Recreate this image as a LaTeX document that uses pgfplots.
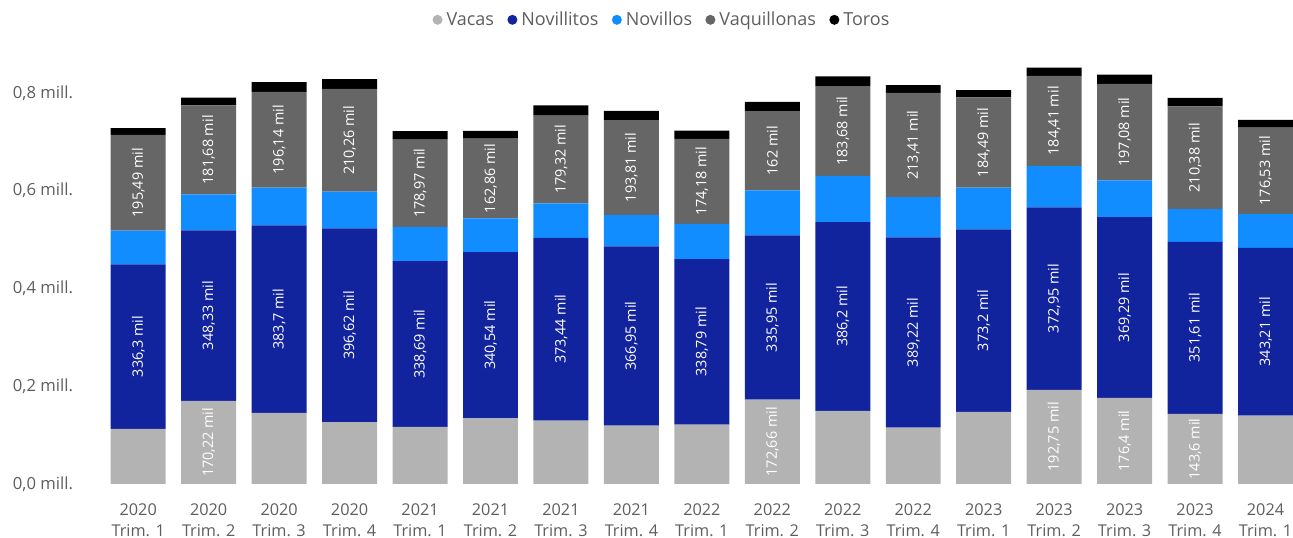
\documentclass[border=0pt]{standalone}
\usepackage{pgfplots}
\pgfplotsset{compat=1.18}
\usepackage{fontspec}
\setmainfont{Open Sans}
\definecolor{cVacas}{HTML}{B3B3B3}
\definecolor{cNovillitos}{HTML}{12239E}
\definecolor{cNovillos}{HTML}{118DFF}
\definecolor{cVaq}{HTML}{666666}
\definecolor{cToros}{HTML}{000000}
\definecolor{txt}{HTML}{605E5C}
\begin{document}
\begin{tikzpicture}
\begin{axis}[
  at={(0,0)}, anchor=south west,
  scale only axis, width=892.5pt, height=330pt,
  xmin=-0.5, xmax=16.39, ymin=0, ymax=0.9,
  ybar stacked, bar width=0.78,
  clip=false,
  axis line style={draw=none},
  tick style={draw=none},
  /pgf/number format/assume math mode=true,
  ytick={0,0.2,0.4,0.6,0.8},
  yticklabels={{0,0 mill.},{0,2 mill.},{0,4 mill.},{0,6 mill.},{0,8 mill.}},
  yticklabel style={font=\fontsize{12.5}{14}\selectfont, text=txt, xshift=-19pt},
  xtick={0,...,16},
  xticklabels={{2020\\Trim. 1},{2020\\Trim. 2},{2020\\Trim. 3},{2020\\Trim. 4},
               {2021\\Trim. 1},{2021\\Trim. 2},{2021\\Trim. 3},{2021\\Trim. 4},
               {2022\\Trim. 1},{2022\\Trim. 2},{2022\\Trim. 3},{2022\\Trim. 4},
               {2023\\Trim. 1},{2023\\Trim. 2},{2023\\Trim. 3},{2023\\Trim. 4},
               {2024\\Trim. 1}},
  xticklabel style={align=center, font=\fontsize{12.2}{15.75}\selectfont, text=txt, yshift=-11pt},
  legend columns=5,
  legend style={at={(0.47,1.055)}, anchor=center, draw=none, fill=none,
    font=\fontsize{13.5}{15}\selectfont, text=txt,
    /tikz/every odd column/.append style={column sep=1pt},
    /tikz/every even column/.append style={column sep=8pt}},
  legend image code/.code={\fill[#1] (0.2cm,0cm) circle (3.75pt);},
  every node near coord/.append style={font=\fontsize{10.8}{12}\selectfont, text=white,
    anchor=center, rotate=90},
]
\addplot+[fill=cVacas, draw=none, nodes near coords, point meta=explicit symbolic] coordinates {
 (0,0.1127) [] (1,0.17022) [170,22 mil] (2,0.1453) [] (3,0.1263) [] (4,0.117) []
 (5,0.134) [] (6,0.1298) [] (7,0.1193) [] (8,0.1214) [] (9,0.17266) [172,66 mil]
 (10,0.1495) [] (11,0.1151) [] (12,0.1474) [] (13,0.19275) [192,75 mil]
 (14,0.1764) [176,4 mil] (15,0.1436) [143,6 mil] (16,0.1396) []
};
\addlegendentry{Vacas}
\addplot+[fill=cNovillitos, draw=none, nodes near coords, point meta=explicit symbolic] coordinates {
 (0,0.3363) [336,3 mil] (1,0.34833) [348,33 mil] (2,0.3837) [383,7 mil] (3,0.39662) [396,62 mil]
 (4,0.33869) [338,69 mil] (5,0.34054) [340,54 mil] (6,0.37344) [373,44 mil] (7,0.36695) [366,95 mil]
 (8,0.33879) [338,79 mil] (9,0.33595) [335,95 mil] (10,0.3862) [386,2 mil] (11,0.38922) [389,22 mil]
 (12,0.3732) [373,2 mil] (13,0.37295) [372,95 mil] (14,0.36929) [369,29 mil] (15,0.35161) [351,61 mil]
 (16,0.34321) [343,21 mil]
};
\addlegendentry{Novillitos}
\addplot+[fill=cNovillos, draw=none] coordinates {
 (0,0.0695) (1,0.074) (2,0.077) (3,0.075) (4,0.070) (5,0.069) (6,0.071) (7,0.064)
 (8,0.0717) (9,0.092) (10,0.0945) (11,0.0824) (12,0.0857) (13,0.0848) (14,0.0755)
 (15,0.067) (16,0.0695)
};
\addlegendentry{Novillos}
\addplot+[fill=cVaq, draw=none, nodes near coords, point meta=explicit symbolic] coordinates {
 (0,0.19549) [195,49 mil] (1,0.18168) [181,68 mil] (2,0.19614) [196,14 mil] (3,0.21026) [210,26 mil]
 (4,0.17897) [178,97 mil] (5,0.16286) [162,86 mil] (6,0.17932) [179,32 mil] (7,0.19381) [193,81 mil]
 (8,0.17418) [174,18 mil] (9,0.162) [162 mil] (10,0.18368) [183,68 mil] (11,0.21341) [213,41 mil]
 (12,0.18449) [184,49 mil] (13,0.18441) [184,41 mil] (14,0.19708) [197,08 mil] (15,0.21038) [210,38 mil]
 (16,0.17653) [176,53 mil]
};
\addlegendentry{Vaquillonas}
\addplot+[fill=cToros, draw=none] coordinates {
 (0,0.014) (1,0.016) (2,0.020) (3,0.020) (4,0.017) (5,0.016) (6,0.021) (7,0.019)
 (8,0.017) (9,0.019) (10,0.020) (11,0.016) (12,0.015) (13,0.017) (14,0.019)
 (15,0.017) (16,0.016)
};
\addlegendentry{Toros}
\end{axis}
\pgfresetboundingbox
\path[use as bounding box] (-77.25pt,-40.5pt) rectangle (892.5pt,363pt);
\end{tikzpicture}
\end{document}
